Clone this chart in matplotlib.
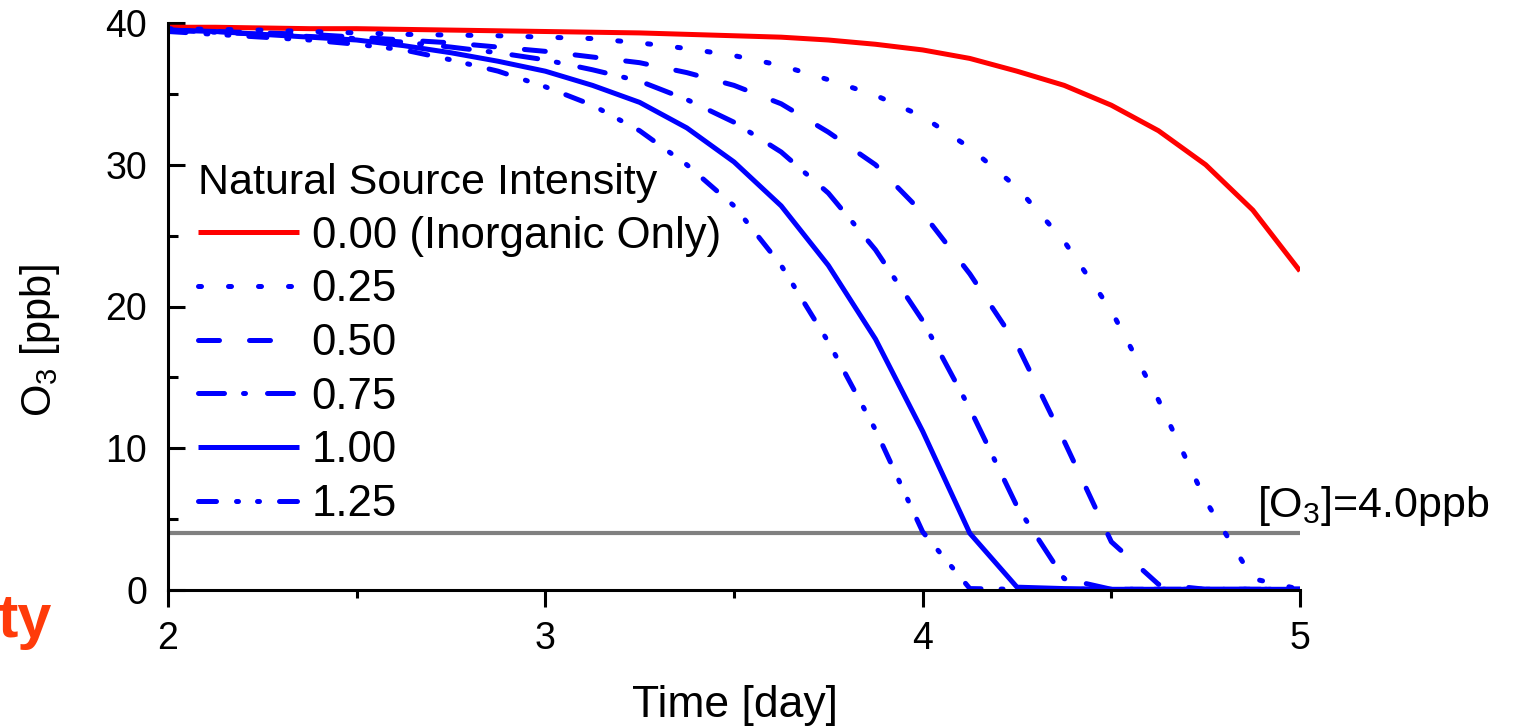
import matplotlib
matplotlib.use("Agg")
import matplotlib.pyplot as plt
from matplotlib.ticker import MultipleLocator

plt.rcParams['font.family'] = ['Liberation Sans', 'DejaVu Sans']
plt.rcParams['mathtext.fontset'] = 'custom'
plt.rcParams['mathtext.rm'] = 'Liberation Sans'
plt.rcParams['mathtext.it'] = 'Liberation Sans:italic'

# ---- data (time in days, O3 in ppb) ----
time_day = [2.0, 2.125, 2.25, 2.375, 2.5, 2.625, 2.75, 2.875, 3.0, 3.125, 3.25, 3.375,
            3.5, 3.625, 3.75, 3.875, 4.0, 4.125, 4.25, 4.375, 4.5, 4.625, 4.75, 4.875, 5.0]

o3_000 = [39.7, 39.7, 39.65, 39.6, 39.6, 39.55, 39.5, 39.45, 39.4, 39.35, 39.3, 39.2,
          39.1, 39.0, 38.8, 38.5, 38.1, 37.5, 36.6, 35.6, 34.2, 32.4, 30.0, 26.8, 22.5]
o3_025 = [39.6, 39.55, 39.5, 39.4, 39.3, 39.2, 39.15, 39.1, 39.0, 38.9, 38.6, 38.2,
          37.7, 37.0, 36.0, 34.9, 33.4, 31.2, 28.4, 24.6, 19.7, 13.4, 6.3, 0.8, 0.05]
o3_050 = [39.5, 39.4, 39.3, 39.2, 39.0, 38.8, 38.6, 38.3, 38.0, 37.6, 37.2, 36.5,
          35.6, 34.3, 32.3, 30.0, 26.6, 22.3, 17.3, 10.5, 3.4, 0.4, 0.05, 0.05, 0.05]
o3_075 = [39.5, 39.35, 39.2, 39.05, 38.9, 38.65, 38.3, 37.9, 37.4, 36.7, 35.9, 34.6,
          33.0, 30.9, 28.0, 24.0, 19.0, 12.8, 5.9, 0.8, 0.05, 0.05, 0.05, 0.05, 0.05]
o3_100 = [39.5, 39.4, 39.2, 39.0, 38.8, 38.4, 37.9, 37.3, 36.6, 35.6, 34.4, 32.6,
          30.2, 27.1, 22.9, 17.7, 11.2, 4.0, 0.2, 0.1, 0.05, 0.05, 0.05, 0.05, 0.05]
o3_125 = [39.4, 39.2, 39.0, 38.8, 38.5, 38.1, 37.4, 36.6, 35.5, 34.2, 32.4, 30.0,
          27.1, 22.9, 17.5, 11.3, 4.1, 0.1, 0.05, 0.05, 0.05, 0.05, 0.05, 0.05, 0.05]

series_labels = ['0.00 (Inorganic Only)', '0.25', '0.50', '0.75', '1.00', '1.25']
threshold_ppb = 4.0
threshold_label = r'[O$\mathregular{_3}$]=4.0ppb'

# ---- figure ----
fig = plt.figure(figsize=(15.2, 7.28), dpi=100)
ax = fig.add_axes([168/1520, 1 - 590/728, (1300-168)/1520, (590-23)/728])

lw = 3.6
styles = [
    dict(color='#ff0000', linestyle='-'),
    dict(color='#0000ff', linestyle=(0, (0.6, 5.4))),
    dict(color='#0000ff', linestyle=(0, (4.2, 6.0))),
    dict(color='#0000ff', linestyle=(0, (5.2, 3.8, 0.4, 4.4))),
    dict(color='#0000ff', linestyle='-'),
    dict(color='#0000ff', linestyle=(0, (3.6, 4.0, 0.4, 3.8, 0.4, 4.0))),
]
all_series = [o3_000, o3_025, o3_050, o3_075, o3_100, o3_125]

ax.axhline(threshold_ppb, color='#808080', lw=3.0, zorder=1)

for vals, lab, st in zip(all_series, series_labels, styles):
    ax.plot(time_day, vals, lw=lw, label=lab, dash_capstyle='round',
            solid_capstyle='butt', zorder=2, **st)

ax.set_xlim(2, 5)
ax.set_ylim(0, 40)
ax.xaxis.set_major_locator(MultipleLocator(1))
ax.xaxis.set_minor_locator(MultipleLocator(0.5))
ax.yaxis.set_major_locator(MultipleLocator(10))
ax.yaxis.set_minor_locator(MultipleLocator(5))

for s in ['top', 'right']:
    ax.spines[s].set_visible(False)
for s in ['left', 'bottom']:
    ax.spines[s].set_linewidth(2.2)

ax.tick_params(axis='x', which='major', direction='out', length=12.5, width=2.2,
               labelsize=27, pad=10)
ax.tick_params(axis='x', which='minor', direction='out', length=6, width=2.2)
ax.tick_params(axis='y', which='major', direction='in', length=12.5, width=2.2,
               labelsize=27, pad=15)
ax.tick_params(axis='y', which='minor', direction='in', length=7, width=2.2)

ax.set_xlabel('Time [day]', fontsize=32, va='center')
ax.xaxis.set_label_coords(0.501, -0.203)
ax.set_ylabel(r'O$\mathregular{_3}$ [ppb]', fontsize=30, va='center')
ax.yaxis.set_label_coords(-0.113, 0.44)

ax.text(4.885, 4.4, threshold_label, fontsize=31, ha='left', va='bottom')

leg = ax.legend(loc='upper left', bbox_to_anchor=(0.0265, 0.753), frameon=False,
                fontsize=31.5, title='Natural Source Intensity', title_fontsize=31,
                alignment='left', borderpad=0, borderaxespad=0, handlelength=2.3,
                handletextpad=0.3, labelspacing=0.29)

fig.text(52/1520, 1 - 637/728, 'ty', color='#ff3b0a', fontsize=44,
         fontweight='bold', ha='right', va='baseline')

fig.savefig('out.png', dpi=100)
